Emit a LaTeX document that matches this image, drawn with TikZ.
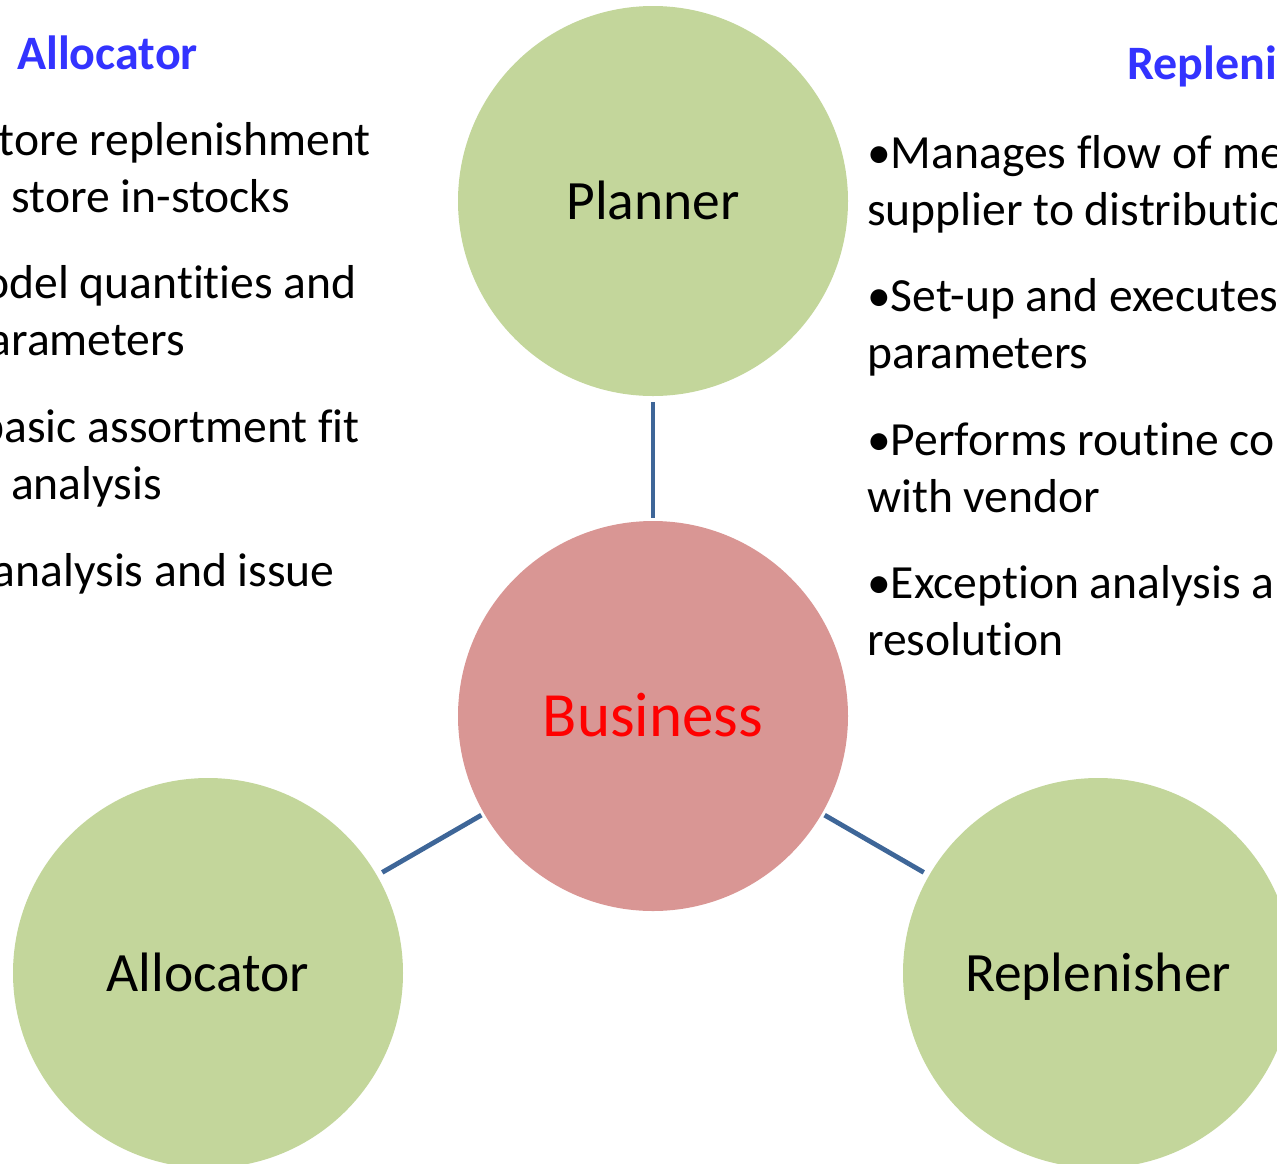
\documentclass[tikz,border=0pt]{standalone}
\usepackage{fontspec}
\setmainfont{Carlito}[Ligatures={NoCommon}]
\definecolor{bubgreen}{HTML}{C3D69B}
\definecolor{bubpink}{HTML}{D99694}
\definecolor{connblue}{RGB}{62,102,152}
\definecolor{headblue}{HTML}{3333FF}
\begin{document}
\begin{tikzpicture}[x=1pt,y=-1pt,
  bubble/.style={circle, minimum size=390pt, inner sep=0pt, fill=bubgreen,
    font=\fontsize{55.5}{66}\selectfont, text height=36pt, text depth=0pt},
  center/.style={bubble, fill=bubpink, text=red,
    font=\fontsize{63}{76}\selectfont, text height=40.5pt},
  conn/.style={draw=connblue, line width=4.8pt},
  txt/.style={font=\fontsize{47.6}{57}\selectfont, inner sep=0pt},
  head/.style={txt, font=\fontsize{48}{57}\selectfont\bfseries, text=headblue}]
\useasboundingbox (0,0) rectangle (1277,1163);
\clip (0,0) rectangle (1277,1163);

% bubbles
\node[bubble] (planner) at (653,201) {Planner};
\node[center] (business) at (653,716) {Business};
\node[bubble] (allocator) at (208,973) {Allocator};
\node[bubble] (replenisher) at (1098,973) {Replenisher};

% connectors
\draw[conn, shorten <=6pt, shorten >=3pt] (planner) -- (business);
\draw[conn, shorten <=3pt, shorten >=6pt] (business) -- (allocator);
\draw[conn, shorten <=3pt, shorten >=6pt] (business) -- (replenisher);

% headers
\node[head, anchor=base west] (hl) at (17,69) {Allocator};
\node[head, anchor=base west] (hr) at (1127,79) {Replenis};

% left block
\node[txt, anchor=base east] (l1) at (371,155) {tore replenishment};
\node[txt, anchor=base east] (l2) at (290,212) {store in-stocks};
\node[txt, anchor=base east] (l3) at (357,298.5) {odel quantities and};
\node[txt, anchor=base east] (l4) at (185,355.5) {arameters};
\node[txt, anchor=base east] (l5) at (360,442) {basic assortment fit};
\node[txt, anchor=base east] (l6) at (162,499) {analysis};
\node[txt, anchor=base east] (l7) at (335,586) {analysis and issue};

% right block
\node[txt, anchor=base west] (r1) at (867,168) {•Manages flow of me};
\node[txt, anchor=base west] (r2) at (867,225) {supplier to distributio};
\node[txt, anchor=base west] (r3) at (867,311.5) {•Set-up and executes};
\node[txt, anchor=base west] (r4) at (867,368.5) {parameters};
\node[txt, anchor=base west] (r5) at (867,455) {•Performs routine co};
\node[txt, anchor=base west] (r6) at (867,512) {with vendor};
\node[txt, anchor=base west] (r7) at (867,598) {•Exception analysis a};
\node[txt, anchor=base west] (r8) at (867,655) {resolution};
\end{tikzpicture}
\end{document}
